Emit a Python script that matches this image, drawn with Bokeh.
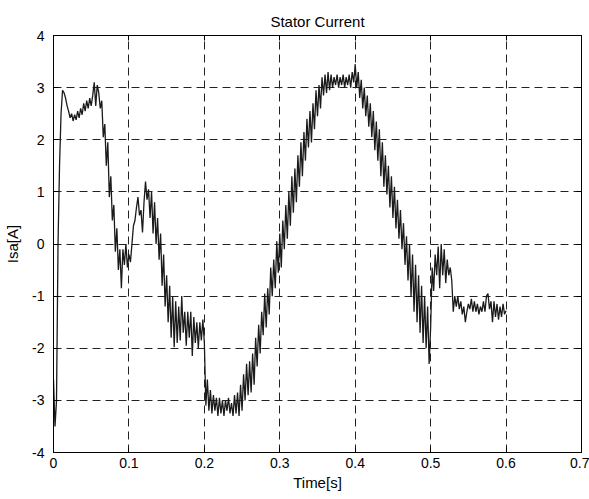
import numpy as np
from bokeh.plotting import figure
from bokeh.models import Range1d, FixedTicker, LinearAxis
from bokeh.embed import file_html
from bokeh.resources import INLINE

# Sampling step of the recorded current [s]
DT = 0.002

# Stator current Isa [A], one value every DT seconds (0 .. 0.6 s)
isa = [
    -2.6, -3.5, -3.0, 0.0, 1.5, 2.5, 2.95, 2.9, 2.8, 2.65,
    2.55, 2.42, 2.5, 2.36, 2.48, 2.38, 2.55, 2.42, 2.6, 2.48,
    2.7, 2.55, 2.75, 2.6, 2.8, 2.65, 2.85, 3.1, 2.65, 3.05,
    2.9, 2.6, 2.75, 2.05, 2.3, 1.5, 1.95, 0.9, 1.3, 0.45,
    0.75, -0.15, 0.3, -0.5, -0.1, -0.85, -0.1, -0.4, 0.0, -0.45,
    -0.2, -0.35, 0.0, 0.35, 0.45, 0.7, 0.9, 0.55, 0.65, 0.22,
    0.8, 1.2, 0.85, 1.05, 0.5, 1.0, 0.2, 0.8, 0.0, 0.5,
    -0.3, 0.2, -0.8, -0.2, -1.2, -0.6, -1.5, -0.8, -1.8, -1.0,
    -1.98, -1.1, -1.9, -1.2, -1.85, -1.0, -1.7, -1.3, -1.95, -1.3,
    -1.8, -1.3, -2.15, -1.4, -1.9, -1.5, -2.0, -1.5, -1.85, -1.45,
    -1.9, -3.1, -2.6, -3.2, -2.8, -3.25, -2.9, -3.2, -2.95, -3.3,
    -2.95, -3.25, -3.0, -3.3, -3.0, -3.2, -2.95, -3.25, -3.05, -3.3,
    -2.9, -3.25, -2.85, -3.3, -2.7, -3.2, -2.5, -3.0, -2.3, -2.9,
    -2.25, -2.85, -2.1, -2.7, -1.8, -2.35, -1.55, -2.1, -1.3, -1.75,
    -0.95, -1.6, -0.85, -1.35, -0.45, -1.0, -0.3, -0.85, 0.05, -0.55,
    0.2, -0.45, 0.45, -0.1, 0.75, 0.1, 1.0, 0.35, 1.3, 0.6,
    1.45, 0.8, 1.7, 1.1, 1.95, 1.3, 2.15, 1.6, 2.4, 1.85,
    2.55, 1.95, 2.7, 2.2, 2.95, 2.45, 3.05, 2.6, 3.2, 2.85,
    3.25, 2.9, 3.3, 2.95, 3.25, 3.0, 3.2, 3.05, 3.25, 3.0,
    3.2, 3.05, 3.25, 3.0, 3.2, 3.05, 3.25, 3.0, 3.3, 3.1,
    3.45, 3.0, 3.3, 2.8, 3.15, 2.6, 3.0, 2.45, 2.85, 2.25,
    2.7, 2.05, 2.55, 1.8, 2.35, 1.6, 2.2, 1.3, 1.95, 1.1,
    1.7, 0.95, 1.5, 0.7, 1.3, 0.5, 1.1, 0.3, 0.85, 0.1,
    0.65, -0.1, 0.4, -0.4, 0.15, -0.7, 0.0, -1.0, -0.2, -1.3,
    -0.4, -1.5, -0.6, -1.7, -0.8, -1.9, -1.0, -2.0, -1.2, -2.3,
    -1.6, -0.45, -0.9, -0.2, -0.6, -0.05, -0.85, 0.0, -0.6, -0.1,
    -0.75, -0.3, -0.6, -0.45, -0.7, -1.3, -1.0, -1.2, -1.0, -1.25,
    -1.1, -1.35, -1.2, -1.5, -1.3, -1.15, -1.25, -1.05, -1.3, -1.1,
    -1.3, -1.15, -1.35, -1.2, -1.3, -1.1, -1.3, -1.0, -0.95, -1.25,
    -1.1, -1.5, -1.1, -1.4, -1.15, -1.45, -1.2, -1.4, -1.15, -1.35,
    -1.28,
]
time = [i * DT for i in range(len(isa))]

x_ticks = [0, 0.1, 0.2, 0.3, 0.4, 0.5, 0.6, 0.7]
x_tick_labels = ["0", "0.1", "0.2", "0.3", "0.4", "0.5", "0.6", "0.7"]
y_ticks = [-4, -3, -2, -1, 0, 1, 2, 3, 4]
y_tick_labels = ["-4", "-3", "-2", "-1", "0", "1", "2", "3", "4"]

title_text = "Stator Current"
x_label = "Time[s]"
y_label = "Isa[A]"

FONT = "Liberation Sans"

p = figure(width=589, height=499, output_backend="svg", toolbar_location=None,
           x_range=Range1d(0, 0.7), y_range=Range1d(-4, 4),
           title=title_text, min_border_left=53, min_border_right=8,
           min_border_top=35, min_border_bottom=47)
p.background_fill_color = "white"
p.border_fill_color = "white"
p.outline_line_color = "black"
p.outline_line_width = 1

p.title.align = "center"
p.title.text_font = FONT
p.title.text_font_size = "15px"
p.title.text_font_style = "normal"
p.title.text_color = "black"
p.title.standoff = 12

p.line(time, isa, line_color="#1a1a1a", line_width=1.3)

for ax, ticks, labels in ((p.xaxis[0], x_ticks, x_tick_labels), (p.yaxis[0], y_ticks, y_tick_labels)):
    ax.ticker = FixedTicker(ticks=ticks)
    ax.major_label_overrides = {t: l for t, l in zip(ticks, labels)}
    ax.minor_tick_line_color = None
    ax.major_tick_in = 5
    ax.major_tick_out = 0
    ax.axis_line_color = "black"
    ax.major_tick_line_color = "black"
    ax.major_label_text_font = FONT
    ax.major_label_text_font_size = "14px"
    ax.major_label_text_color = "black"
    ax.axis_label_text_font = FONT
    ax.axis_label_text_font_size = "15px"
    ax.axis_label_text_font_style = "normal"
    ax.axis_label_text_color = "black"

p.xaxis[0].axis_label = x_label
p.yaxis[0].axis_label = y_label
p.xaxis[0].major_label_standoff = 5
p.xaxis[0].axis_label_standoff = 3
p.yaxis[0].major_label_standoff = 9
p.yaxis[0].axis_label_standoff = 8

# ticks on the right and top edges (inward), without labels
for side, ticks in (("right", y_ticks), ("above", x_ticks)):
    a = LinearAxis(ticker=FixedTicker(ticks=ticks), major_label_text_color=None,
                   major_tick_in=5, major_tick_out=0, minor_tick_line_color=None,
                   axis_line_color="black", major_tick_line_color="black",
                   major_label_standoff=0)
    p.add_layout(a, side)

for g, ticks in ((p.xgrid[0], x_ticks), (p.ygrid[0], y_ticks)):
    g.ticker = FixedTicker(ticks=ticks)
    g.grid_line_color = "#222222"
    g.grid_line_dash = "8 5"
    g.grid_line_width = 1

open("out.html", "w").write(file_html(p, INLINE))
